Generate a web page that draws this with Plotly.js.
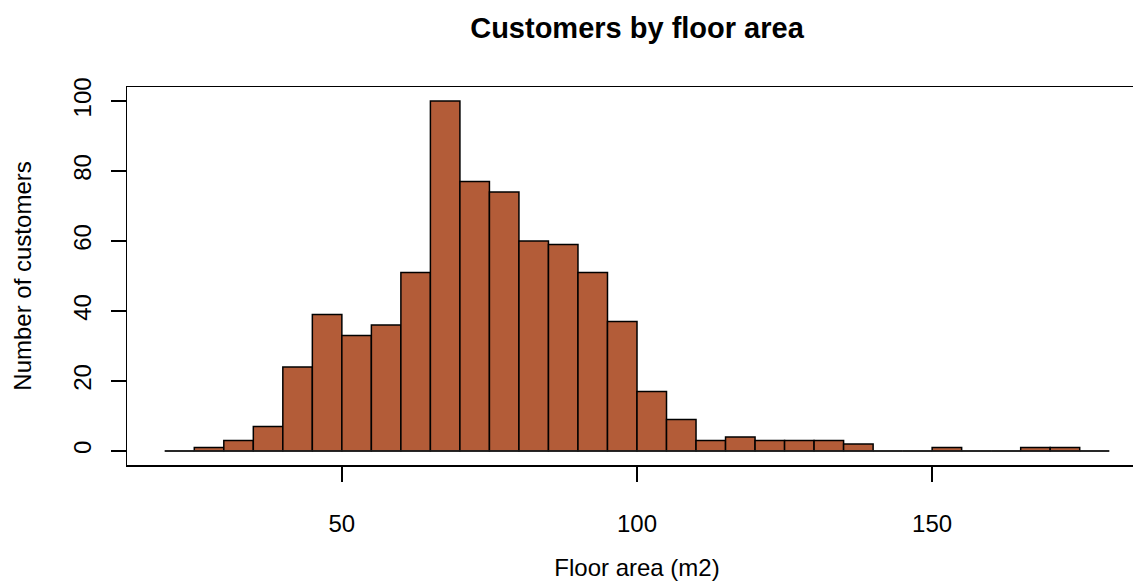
<!DOCTYPE html>
<html>
<head>
<meta charset="utf-8">
<script src="https://cdn.plot.ly/plotly-3.0.1.min.js"></script>
<style>
html,body{margin:0;padding:0;background:#fff;overflow:hidden;width:1133px;height:581px;}
#chart{width:1160px;height:581px;}
</style>
</head>
<body>
<div id="chart"></div>
<script>
// Histogram bins (breaks every 5 m2 from 20 to 180)
const breaks = [20,25,30,35,40,45,50,55,60,65,70,75,80,85,90,95,100,105,110,115,120,125,130,135,140,145,150,155,160,165,170,175,180];
const counts = [0,1,3,7,24,39,33,36,51,100,77,74,60,59,51,37,17,9,3,4,3,3,3,2,0,0,1,0,0,1,1,0];
const xTicks = [50,100,150];
const yTicks = [0,20,40,60,80,100];

const mids = counts.map((c,i)=> (breaks[i]+breaks[i+1])/2);
const widths = counts.map((c,i)=> breaks[i+1]-breaks[i]);

const fontFam = "Liberation Sans, Arial, Helvetica, sans-serif";

const baseline = {
  type:'scatter', mode:'lines',
  x:[breaks[0], breaks[breaks.length-1]], y:[0,0],
  line:{color:'#222', width:1.5}, hoverinfo:'skip', showlegend:false
};
const bars = {
  type:'bar', x:mids, y:counts, width:widths,
  marker:{color:'#B35C38', line:{color:'#000', width:1.5}},
  showlegend:false
};

const layout = {
  width:1160, height:581,
  margin:{l:127, r:13, t:87, b:116},
  paper_bgcolor:'#fff', plot_bgcolor:'#fff',
  font:{family:fontFam, size:24, color:'#000'},
  title:{text:'<b>Customers by floor area</b>', font:{family:fontFam, size:29, color:'#000'},
         x:0.5, xref:'paper', xanchor:'center', y:1-28/581, yref:'container', yanchor:'middle'},
  bargap:0,
  xaxis:{range:[13.6,186.4], tickvals:xTicks, ticktext:xTicks.map(String),
         ticks:'outside', ticklen:15, tickwidth:1.5, tickcolor:'#000', ticklabelstandoff:22,
         showline:true, linecolor:'#000', linewidth:1.5, mirror:true,
         showgrid:false, zeroline:false, tickfont:{size:24},
         title:{text:'Floor area (m2)', font:{size:24}, standoff:26}},
  yaxis:{range:[-4,104], tickvals:yTicks, ticktext:yTicks.map(String),
         ticks:'outside', ticklen:15, tickwidth:1.5, tickcolor:'#000', tickangle:-90, ticklabelstandoff:10,
         showline:true, linecolor:'#000', linewidth:1.5, mirror:true,
         showgrid:false, zeroline:false, tickfont:{size:24},
         title:{text:'Number of customers', font:{size:24}, standoff:30}}
};

Plotly.newPlot('chart', [baseline, bars], layout, {displayModeBar:false, staticPlot:true});
</script>
</body>
</html>
